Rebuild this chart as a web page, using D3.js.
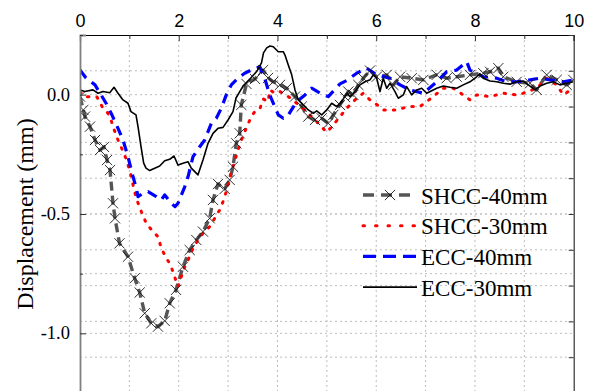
<!DOCTYPE html>
<html>
<head>
<meta charset="utf-8">
<script src="https://cdn.jsdelivr.net/npm/d3@7"></script>
<style>
  html, body { margin: 0; padding: 0; background: #fff; }
  svg { display: block; }
</style>
</head>
<body>
<svg id="chart" width="590" height="391"></svg>
<script>
// values: [time, displacement]
const shcc40 = [[0,-0.008],[0.067,-0.064],[0.101,-0.092],[0.203,-0.134],[0.304,-0.190],[0.405,-0.232],[0.486,-0.219],[0.547,-0.274],[0.608,-0.316],[0.668,-0.455],[0.709,-0.518],[0.800,-0.623],[0.972,-0.679],[1.108,-0.769],[1.209,-0.829],[1.311,-0.916],[1.444,-0.958],[1.580,-0.972],[1.716,-0.948],[1.817,-0.874],[1.945,-0.818],[2.086,-0.721],[2.222,-0.651],[2.356,-0.609],[2.491,-0.574],[2.627,-0.518],[2.694,-0.441],[2.795,-0.374],[2.931,-0.395],[3.032,-0.357],[3.099,-0.302],[3.166,-0.204],[3.235,-0.162],[3.267,-0.043],[3.372,0.045],[3.545,0.066],[3.707,0.103],[3.808,0.070],[3.915,0.054],[4.051,0.041],[4.187,0.027],[4.355,-0.008],[4.491,-0.050],[4.624,-0.092],[4.760,-0.106],[4.896,-0.099],[5.029,-0.120],[5.131,-0.085],[5.266,-0.043],[5.368,-0.010],[5.435,0.013],[5.536,-0.001],[5.637,0.041],[5.738,0.069],[5.874,0.101],[6.010,0.075],[6.212,0.083],[6.346,0.041],[6.482,0.075],[6.719,0.069],[6.954,0.062],[7.225,0.083],[7.428,0.069],[7.630,0.075],[7.899,0.083],[8.169,0.090],[8.305,0.096],[8.473,0.111],[8.574,0.075],[8.845,0.054],[9.115,0.048],[9.250,0.020],[9.453,0.083],[9.656,0.062],[9.858,0.041],[9.992,0.062]];

const shcc30 = [[0,0.011],[0.101,-0.010],[0.203,-0.008],[0.344,-0.010],[0.466,-0.057],[0.547,-0.072],[0.618,-0.098],[0.668,-0.134],[0.770,-0.190],[0.905,-0.253],[1.007,-0.316],[1.074,-0.378],[1.140,-0.434],[1.242,-0.490],[1.343,-0.539],[1.479,-0.574],[1.580,-0.595],[1.647,-0.644],[1.748,-0.685],[1.817,-0.707],[1.884,-0.742],[1.951,-0.784],[1.985,-0.804],[2.052,-0.763],[2.121,-0.721],[2.188,-0.693],[2.289,-0.644],[2.390,-0.609],[2.491,-0.581],[2.627,-0.553],[2.728,-0.518],[2.830,-0.483],[2.897,-0.448],[2.963,-0.406],[3.032,-0.350],[3.099,-0.302],[3.200,-0.232],[3.267,-0.190],[3.368,-0.140],[3.470,-0.092],[3.565,-0.064],[3.646,-0.057],[3.713,-0.018],[3.808,-0.029],[3.848,0.020],[3.944,0.006],[4.051,0.013],[4.219,-0.008],[4.389,-0.036],[4.557,-0.064],[4.659,-0.085],[4.827,-0.120],[4.997,-0.158],[5.131,-0.127],[5.266,-0.092],[5.402,-0.057],[5.570,-0.022],[5.738,0.006],[5.874,-0.022],[5.996,-0.039],[6.143,-0.064],[6.415,-0.064],[6.650,-0.050],[6.887,-0.050],[7.156,-0.008],[7.359,0.027],[7.561,0.027],[7.763,-0.001],[7.899,-0.022],[8.035,-0.001],[8.305,-0.008],[8.574,0.006],[8.845,-0.001],[8.979,0.006],[9.250,0.027],[9.453,0.069],[9.656,0.041],[9.789,-0.001],[9.992,0.027]];

const ecc40 = [[0,0.103],[0.122,0.070],[0.304,0.041],[0.537,-0.039],[0.638,-0.081],[0.770,-0.141],[0.871,-0.190],[0.972,-0.260],[1.074,-0.344],[1.140,-0.391],[1.175,-0.427],[1.276,-0.413],[1.377,-0.406],[1.545,-0.427],[1.647,-0.441],[1.716,-0.420],[1.849,-0.455],[1.924,-0.469],[1.985,-0.455],[2.121,-0.386],[2.188,-0.344],[2.289,-0.260],[2.425,-0.218],[2.526,-0.190],[2.660,-0.120],[2.761,-0.099],[2.862,-0.057],[2.963,-0.001],[3.065,0.041],[3.200,0.069],[3.336,0.090],[3.470,0.103],[3.640,0.117],[3.741,0.069],[3.842,-0.001],[3.944,-0.050],[4.017,-0.085],[4.118,-0.099],[4.219,-0.085],[4.389,-0.029],[4.557,-0.001],[4.693,0.027],[4.928,-0.001],[5.029,-0.008],[5.266,0.045],[5.402,0.059],[5.605,0.090],[5.807,0.111],[6.010,0.083],[6.279,0.069],[6.482,0.041],[6.684,0.020],[6.954,0.006],[7.225,0.054],[7.428,0.096],[7.630,0.103],[7.833,0.138],[7.899,0.103],[8.169,0.075],[8.440,0.069],[8.643,0.054],[8.845,0.054],[9.115,0.062],[9.317,0.069],[9.520,0.062],[9.789,0.054],[9.992,0.062]];

const ecc30 = [[0,0.020],[0.095,0.013],[0.263,0.020],[0.365,0.006],[0.466,0.013],[0.602,0.008],[0.689,0.031],[0.770,0.006],[0.871,-0.022],[0.972,-0.036],[1.033,-0.071],[1.134,-0.085],[1.175,-0.134],[1.236,-0.218],[1.290,-0.287],[1.337,-0.308],[1.412,-0.318],[1.513,-0.308],[1.614,-0.299],[1.716,-0.277],[1.817,-0.271],[1.904,-0.257],[1.985,-0.295],[2.086,-0.287],[2.188,-0.281],[2.254,-0.308],[2.390,-0.336],[2.491,-0.274],[2.593,-0.204],[2.694,-0.162],[2.795,-0.141],[2.897,-0.137],[2.998,-0.106],[3.099,-0.071],[3.160,-0.014],[3.302,0.036],[3.444,0.066],[3.585,0.099],[3.676,0.133],[3.717,0.175],[3.782,0.196],[3.848,0.204],[3.915,0.201],[4.016,0.180],[4.117,0.180],[4.152,0.166],[4.219,0.124],[4.288,0.083],[4.355,0.020],[4.422,-0.022],[4.523,-0.043],[4.624,-0.064],[4.726,-0.078],[4.794,-0.068],[4.895,-0.085],[4.997,-0.064],[5.098,-0.036],[5.200,-0.050],[5.301,-0.029],[5.402,0.006],[5.469,-0.008],[5.570,0.013],[5.671,0.041],[5.773,0.054],[5.874,0.062],[5.941,0.083],[6.010,0.069],[6.076,0.013],[6.143,0.069],[6.212,0.027],[6.279,0.048],[6.380,0.013],[6.447,-0.015],[6.549,-0.001],[6.617,0.034],[6.719,-0.001],[6.820,0.020],[6.921,0.027],[7.022,0.006],[7.225,0.027],[7.359,0.036],[7.494,0.031],[7.630,0.027],[7.763,0.041],[7.899,0.054],[8.035,0.075],[8.102,0.087],[8.169,0.069],[8.305,0.057],[8.440,0.054],[8.574,0.048],[8.710,0.044],[8.845,0.054],[8.979,0.057],[9.115,0.036],[9.216,0.020],[9.317,0.036],[9.453,0.048],[9.587,0.054],[9.722,0.041],[9.858,0.048],[9.992,0.054]];

const xTicks = [0, 2, 4, 6, 8, 10];
const xTickLabels = ["0", "2", "4", "6", "8", "10"];
const yTicks = [0, -0.5, -1.0];
const yTickLabels = ["0.0", "-0.5", "-1.0"];
const seriesNames = ["SHCC-40mm", "SHCC-30mm", "ECC-40mm", "ECC-30mm"];

const pLeft = 80, pRight = 573.7, pTop = 35, pBottom = 393;

const svg = d3.select("#chart");

const x = d3.scaleLinear().domain([0, 10]).range([pLeft, pRight]);
const y = d3.scaleLinear().domain([-1.25, 0.25]).range([pBottom, pTop]);
const yR = d3.scaleLinear().domain([0, 10]).range([pBottom, pTop]); // right axis of the layer, no labels

// grid
const grid = svg.append("g").attr("stroke", "#bdbdbd").attr("stroke-width", 1).attr("stroke-dasharray", "2,3");
grid.selectAll(".vg").data(d3.range(1, 10)).enter().append("line")
    .attr("x1", d => x(d)).attr("x2", d => x(d)).attr("y1", pTop).attr("y2", pBottom);
grid.selectAll(".hg").data([0, -0.25, -0.5, -0.75, -1.0]).enter().append("line")
    .attr("x1", pLeft).attr("x2", pRight).attr("y1", d => y(d)).attr("y2", d => y(d));
grid.selectAll(".hr").data(d3.range(1, 10)).enter().append("line")
    .attr("x1", pLeft).attr("x2", pRight).attr("y1", d => yR(d)).attr("y2", d => yR(d));

// curves
svg.append("clipPath").attr("id", "clip").append("rect")
    .attr("x", pLeft).attr("y", pTop).attr("width", pRight - pLeft).attr("height", pBottom - pTop);
const plot = svg.append("g").attr("clip-path", "url(#clip)");

const line = d3.line().x(d => x(d[0])).y(d => y(d[1]));

const styles = [
  {data: shcc40, stroke: "#555", width: 3.4, dash: "9,5", cap: "butt"},
  {data: shcc30, stroke: "#ff0000", width: 3, dash: "1.5,8", cap: "round"},
  {data: ecc40, stroke: "#0000ff", width: 3.2, dash: "10,7", cap: "butt"},
  {data: ecc30, stroke: "#000", width: 1.6, dash: null, cap: "butt"}
];

styles.forEach(s => {
  plot.append("path")
      .datum(s.data)
      .attr("fill", "none")
      .attr("stroke", s.stroke)
      .attr("stroke-width", s.width)
      .attr("stroke-dasharray", s.dash)
      .attr("stroke-linecap", s.cap)
      .attr("stroke-linejoin", "round")
      .attr("d", line);
});

// x markers on SHCC-40mm
const cross = d3.symbol().type(d3.symbolX).size(70);
plot.selectAll(".mk").data(shcc40).enter().append("path")
    .attr("transform", d => "translate(" + x(d[0]) + "," + y(d[1]) + ")")
    .attr("d", cross)
    .attr("fill", "none")
    .attr("stroke", "#1a1a1a")
    .attr("stroke-width", 0.9);

// axes
const topAxis = svg.append("g").attr("transform", "translate(0," + pTop + ")")
    .call(d3.axisTop(x).tickValues(xTicks).tickSize(-6).tickPadding(8)
        .tickFormat((d, i) => xTickLabels[i]));
svg.append("g").attr("transform", "translate(0," + pTop + ")")
    .call(d3.axisTop(x).tickValues([1, 3, 5, 7, 9]).tickSize(-4).tickFormat(""))
    .select(".domain").remove();
topAxis.select(".domain").attr("stroke", "#000").attr("stroke-width", 1.2);
topAxis.selectAll("text")
    .attr("font-family", "'Liberation Sans', Arial, sans-serif")
    .attr("font-size", "18px").attr("fill", "#000");

const leftAxis = svg.append("g").attr("transform", "translate(" + pLeft + ",0)")
    .call(d3.axisLeft(y).tickValues(yTicks).tickSize(-6).tickPadding(10)
        .tickFormat((d, i) => yTickLabels[i]));
svg.append("g").attr("transform", "translate(" + pLeft + ",0)")
    .call(d3.axisLeft(y).tickValues([0.25, -0.25, -0.75, -1.25]).tickSize(-3).tickFormat(""))
    .select(".domain").remove();
leftAxis.select(".domain").attr("stroke", "#808080").attr("stroke-width", 1.8);
leftAxis.selectAll("text")
    .attr("font-family", "'Liberation Serif', 'Times New Roman', serif")
    .attr("font-size", "18.5px").attr("fill", "#000").attr("dy", "0.3em");

const rightAxis = svg.append("g").attr("transform", "translate(" + pRight + ",0)")
    .call(d3.axisRight(yR).tickValues(d3.range(0, 11)).tickSize(-5).tickFormat(""));
rightAxis.select(".domain").attr("stroke", "#333").attr("stroke-width", 1.2);

svg.selectAll(".tick line").attr("stroke", "#333");

// y label
svg.append("text")
    .attr("transform", "translate(33,214) rotate(-90)")
    .attr("text-anchor", "middle")
    .attr("font-family", "'Liberation Serif', 'Times New Roman', serif")
    .attr("font-size", "24px")
    .attr("fill", "#000")
    .text("Displacement (mm)");

// legend
const lg = svg.append("g");
seriesNames.forEach((name, i) => {
  const s = styles[i];
  const ly = 195 + i * 30.7;
  lg.append("line")
      .attr("x1", 363).attr("x2", 417).attr("y1", ly).attr("y2", ly)
      .attr("stroke", s.stroke)
      .attr("stroke-width", s.width)
      .attr("stroke-dasharray", i === 1 ? "1.5,11" : (i === 0 ? "11,7" : (i === 2 ? "13,7" : null)))
      .attr("stroke-linecap", s.cap);
  if (i === 0) {
    lg.append("path")
        .attr("transform", "translate(390," + ly + ")")
        .attr("d", cross)
        .attr("fill", "none").attr("stroke", "#1a1a1a").attr("stroke-width", 0.9);
  }
  lg.append("text")
      .attr("x", 421).attr("y", ly + 8.5)
      .attr("font-family", "'Liberation Serif', 'Times New Roman', serif")
      .attr("font-size", "23px")
      .attr("fill", "#000")
      .text(name);
});
</script>
</body>
</html>
